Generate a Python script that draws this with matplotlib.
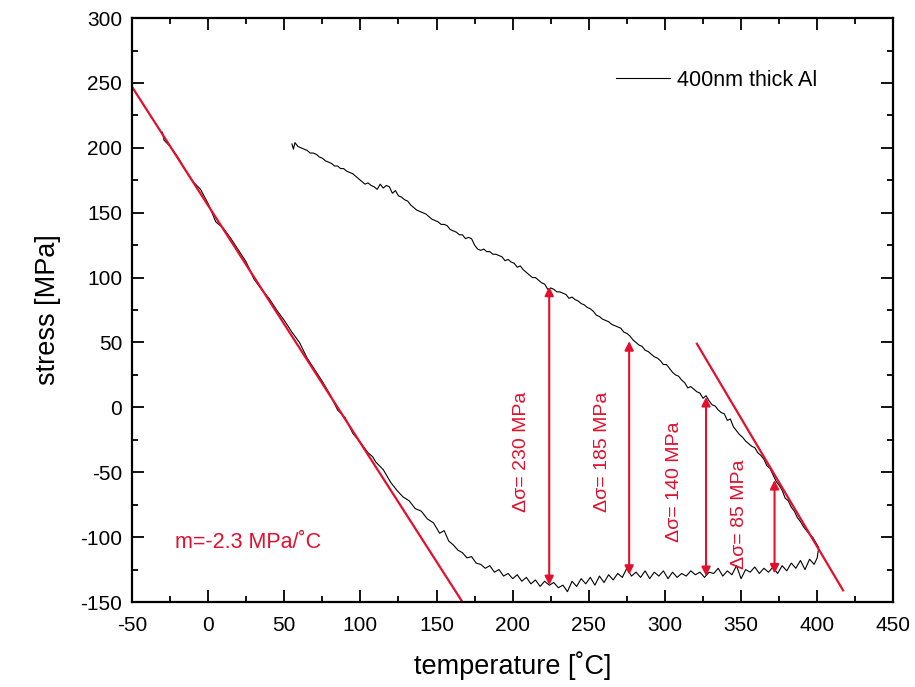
import matplotlib
matplotlib.use("Agg")
import matplotlib.pyplot as plt
from matplotlib.ticker import MultipleLocator

plt.rcParams['font.family'] = ['Liberation Sans', 'DejaVu Sans']
plt.rcParams['axes.unicode_minus'] = False

RED = '#e2102e'

# heating branch (x = temperature, y = stress)
heat_x = [-30, -29, -25, -20, -15, -10, -5, 0, 5, 10, 15, 20, 25, 30, 35, 40, 45, 50, 55, 60,
          65, 70, 75, 80, 85, 90, 95, 100, 105, 108, 110, 115, 120,
          124, 128, 132, 136, 140, 144, 148, 152, 155, 158, 161, 164, 167, 170, 173, 176, 179,
          182, 185, 188, 191, 194, 197, 200, 203, 206, 209, 212, 215, 218, 221, 224, 227, 230,
          233, 236, 239, 242, 245, 248, 251, 254, 257, 260, 263, 266, 269, 272, 275, 278, 281,
          284, 287, 290, 293, 296, 299, 302, 305, 308, 311, 314, 317, 320, 323, 326, 329, 332,
          335, 338, 341, 344, 347, 350, 353, 356, 359, 362, 365, 368, 371, 374, 377, 380, 383,
          386, 389, 392, 395, 398, 400, 401]
heat_y = [212, 206, 201, 193, 183, 174, 168, 157, 143, 138, 130, 121, 112, 99, 91, 84, 75, 67, 58, 50,
          38, 29, 20, 10, -2, -8, -20, -27, -35, -38, -42, -48, -58,
          -64, -69, -72, -78, -80, -86, -89, -97, -95, -103, -106, -110, -112, -116, -115, -120, -121,
          -124, -122, -127, -125, -130, -128, -132, -129, -134, -131, -136, -133, -138, -134, -137, -135, -139,
          -137, -142, -134, -138, -132, -136, -131, -137, -130, -135, -129, -133, -128, -131, -124, -130, -127,
          -131, -126, -132, -127, -130, -126, -132, -127, -131, -128, -130, -126, -129, -127, -131, -127, -128,
          -124, -130, -126, -129, -122, -132, -125, -127, -123, -128, -124, -127, -123, -128, -122, -126, -120,
          -124, -118, -125, -117, -121, -116, -108]

# cooling branch
cool_x = [401, 399, 397, 395, 393, 391, 389, 387, 385, 383, 381, 379, 377, 375, 373, 371, 369, 367,
          365, 363, 361, 359, 357, 355, 353, 351, 349, 347, 345, 343, 341, 339, 337, 335, 333, 331,
          329, 327, 325, 323, 321, 319, 317, 315, 313, 311, 309, 307, 305, 303, 301, 299, 297, 295,
          293, 291, 289, 287, 285, 283, 281, 279, 277, 275, 273, 271, 269, 267, 265, 263, 261, 259,
          257, 255, 253, 251, 249, 247, 245, 243, 241, 239, 237, 235, 233, 231, 229, 227, 225, 223,
          221, 219, 217, 215, 213, 211, 209, 207, 205, 203, 201, 199, 197, 195, 193, 191, 189, 187,
          185, 183, 181, 179, 177, 175, 173, 171, 169, 167, 165, 163, 161, 159, 157, 155, 153, 151,
          149, 147, 145, 143, 141, 139, 137, 135, 133, 131, 129, 127, 125, 123, 121, 119, 117, 115,
          113, 111, 109, 107, 105, 103, 101, 99, 97, 95, 93, 91, 89, 87, 85, 83, 81, 79, 77, 75,
          73, 71, 69, 67, 65, 63, 61, 59, 57, 56, 55]
cool_y = [-108, -104, -100, -98, -95, -92, -88, -85, -80, -77, -72, -70, -64, -60, -57, -52, -47, -45,
          -40, -37, -35, -31, -30, -28, -26, -23, -21, -18, -15, -9, -10, -5, -4, -2, 1, 2,
          5, 9, 7, 11, 12, 14, 16, 15, 19, 21, 24, 25, 27, 30, 33, 33, 36, 38,
          39, 41, 43, 44, 47, 48, 50, 52, 55, 57, 58, 61, 62, 63, 64, 66, 67, 68,
          70, 71, 74, 76, 77, 79, 80, 82, 83, 85, 84, 87, 88, 89, 89, 91, 92, 91,
          95, 96, 98, 100, 100, 102, 104, 106, 109, 108, 111, 112, 114, 113, 116, 117, 118, 118,
          120, 120, 122, 121, 122, 125, 130, 131, 130, 133, 133, 135, 136, 137, 140, 141, 141, 143,
          144, 145, 147, 149, 150, 151, 152, 154, 156, 159, 160, 162, 163, 167, 165, 170, 171, 169,
          172, 168, 170, 171, 173, 172, 174, 176, 178, 180, 181, 182, 184, 184, 186, 186, 188, 189, 190, 192,
          193, 195, 196, 196, 198, 199, 200, 201, 204, 199, 203]

# fitted red lines
fit1_x = [-50, 167]
fit1_y = [247, -150]
fit2_x = [321, 417]
fit2_y = [49, -141]

# double arrows: temperature, bottom, top, label, label position
arrow_x = [224, 276.5, 327, 372]
arrow_bot = [-137, -129, -130, -128]
arrow_top = [93, 51, 8, -56]
arrow_labels = ['Δσ= 230 MPa', 'Δσ= 185 MPa', 'Δσ= 140 MPa', 'Δσ= 85 MPa']
label_x = [206, 259, 306, 349]
label_y = [-34, -34, -57, -82]

fig = plt.figure(figsize=(9.15, 6.87), dpi=100)
ax = fig.add_axes([0.1443, 0.1237, 0.832, 0.850])

ax.plot(heat_x + cool_x, heat_y + cool_y, color='black', lw=0.8, label='400nm thick Al')
ax.plot(fit1_x, fit1_y, color=RED, lw=1.6)
ax.plot(fit2_x, fit2_y, color=RED, lw=1.6)

for xa, yb, yt in zip(arrow_x, arrow_bot, arrow_top):
    ax.annotate('', xy=(xa, yt), xytext=(xa, yb),
                arrowprops=dict(arrowstyle='<|-|>', color=RED, lw=1.5,
                                mutation_scale=13, shrinkA=0, shrinkB=0))
for t, lx, ly in zip(arrow_labels, label_x, label_y):
    ax.text(lx, ly, t, rotation=90, color=RED, fontsize=14, ha='center', va='center')

ax.text(-22, -104, 'm=-2.3 MPa/˚C', color=RED, fontsize=15.5, ha='left', va='center')

ax.set_xlim(-50, 450)
ax.set_ylim(-150, 300)
ax.xaxis.set_major_locator(MultipleLocator(50))
ax.xaxis.set_minor_locator(MultipleLocator(25))
ax.yaxis.set_major_locator(MultipleLocator(50))
ax.yaxis.set_minor_locator(MultipleLocator(25))
ax.tick_params(which='both', direction='in', top=True, right=True, labelsize=15, width=1.3)
ax.tick_params(which='major', length=8.5)
ax.tick_params(which='minor', length=4.5)
ax.tick_params(axis='x', pad=10)
ax.tick_params(axis='y', pad=7)
for s in ax.spines.values():
    s.set_linewidth(1.6)

ax.set_xlabel('temperature [˚C]', fontsize=19.5, labelpad=12)
ax.set_ylabel('stress [MPa]', fontsize=19.5, labelpad=14)

leg = ax.legend(loc='upper right', bbox_to_anchor=(0.925, 0.945), frameon=False, fontsize=15.5,
                handlelength=2.5, handletextpad=0.3)

fig.savefig('out.png', dpi=100)
